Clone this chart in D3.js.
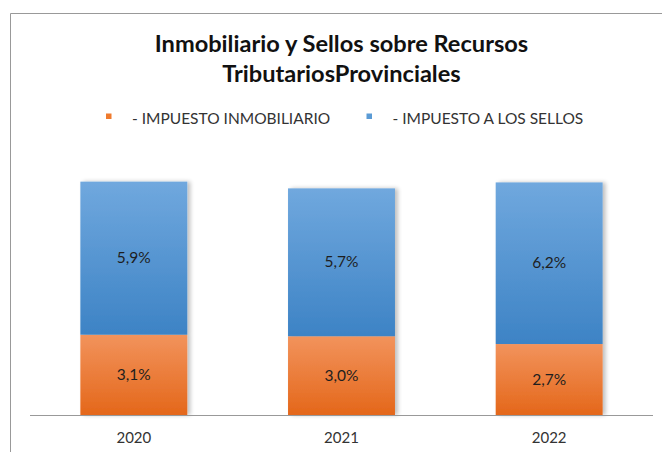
<!DOCTYPE html>
<html><head><meta charset="utf-8">
<script src="https://cdn.jsdelivr.net/npm/d3@7"></script>
<style>html,body{margin:0;padding:0;background:#fff;}svg{display:block;}</style>
</head><body>
<svg id="chart" width="662" height="452"></svg>
<script>
const categories = ["2020", "2021", "2022"];
const inmobiliario = [3.10, 3.04, 2.74];
const sellos = [5.91, 5.71, 6.24];
const seriesNames = ["- IMPUESTO INMOBILIARIO", "- IMPUESTO A LOS SELLOS"];
const titleLines = ["Inmobiliario y Sellos sobre Recursos", "TributariosProvinciales"];

const svg = d3.select("#chart");
const font = "Lato, 'Open Sans', sans-serif";
const defs = svg.append("defs");
const grads = [
  {id: "gOrange", top: "#f2935c", bottom: "#e4671a"},
  {id: "gBlue", top: "#70a8de", bottom: "#3d83c5"}
];
grads.forEach(g => {
  const lg = defs.append("linearGradient").attr("id", g.id).attr("x1", 0).attr("y1", 0).attr("x2", 0).attr("y2", 1);
  lg.append("stop").attr("offset", "0%").attr("stop-color", g.top);
  lg.append("stop").attr("offset", "100%").attr("stop-color", g.bottom);
});
const f = defs.append("filter").attr("id", "shadow").attr("x", "-10%").attr("y", "-10%").attr("width", "130%").attr("height", "120%");
f.append("feGaussianBlur").attr("in", "SourceAlpha").attr("stdDeviation", 2);
f.append("feOffset").attr("dx", 3).attr("dy", 0).attr("result", "ob");
f.append("feComponentTransfer").append("feFuncA").attr("type", "linear").attr("slope", 0.25);
const m = f.append("feMerge");
m.append("feMergeNode");
m.append("feMergeNode").attr("in", "SourceGraphic");

// chart frame
svg.append("path").attr("d", "M10.5,452 L10.5,13.5 L662,13.5").attr("fill", "none").attr("stroke", "#999").attr("stroke-width", 1);

// title
svg.append("text").attr("font-family", font).attr("font-weight", 700)
  .attr("font-size", 23.6).attr("fill", "#111").attr("text-anchor", "middle")
  .selectAll("tspan").data(titleLines).join("tspan")
  .attr("x", 341.5).attr("y", (d, i) => 51.5 + i * 30).text(d => d);

// legend
const legendX = [106, 366.5];
const legendColors = ["#ef7b2e", "#5b9bd5"];
const lg = svg.append("g");
seriesNames.forEach((n, i) => {
  lg.append("rect").attr("x", legendX[i]).attr("y", 113.5).attr("width", 5.5).attr("height", 5.5).attr("fill", legendColors[i]);
  lg.append("text").attr("x", legendX[i] + 26).attr("y", 123.5).attr("font-family", font)
    .attr("font-size", 15.5).attr("fill", "#333").text(n);
});

const x = d3.scaleBand().domain(categories).range([30, 653]).paddingInner(0.485).paddingOuter(0.2425);
const y = d3.scaleLinear().domain([0, 10]).range([415, 156]);

const data = categories.map((c, i) => ({c, a: inmobiliario[i], b: sellos[i]}));
const stack = d3.stack().keys(["a", "b"])(data);
const fills = ["url(#gOrange)", "url(#gBlue)"];

const gBars = svg.append("g").attr("filter", "url(#shadow)");
stack.forEach((s, si) => {
  gBars.selectAll(null).data(s).join("rect")
    .attr("x", d => x(d.data.c)).attr("width", x.bandwidth())
    .attr("y", d => y(d[1])).attr("height", d => y(d[0]) - y(d[1]))
    .attr("fill", fills[si]);
});
const fmt = v => v.toFixed(1).replace(".", ",") + "%";
stack.forEach((s, si) => {
  svg.selectAll(null).data(s).join("text")
    .attr("x", d => x(d.data.c) + x.bandwidth() / 2)
    .attr("y", d => (y(d[0]) + y(d[1])) / 2 + 5)
    .attr("text-anchor", "middle").attr("font-family", font).attr("font-size", 15.5)
    .attr("fill", "#1e1e1e").text(d => fmt(d[1] - d[0]));
});

// x axis
const ax = svg.append("g").attr("transform", "translate(0,415)").call(d3.axisBottom(x).tickSize(0).tickPadding(17));
ax.select(".domain").attr("stroke", "#999").attr("d", "M30,0.5H653");
ax.selectAll("text").attr("font-family", font).attr("font-size", 15).attr("fill", "#333");
</script>
</body></html>
